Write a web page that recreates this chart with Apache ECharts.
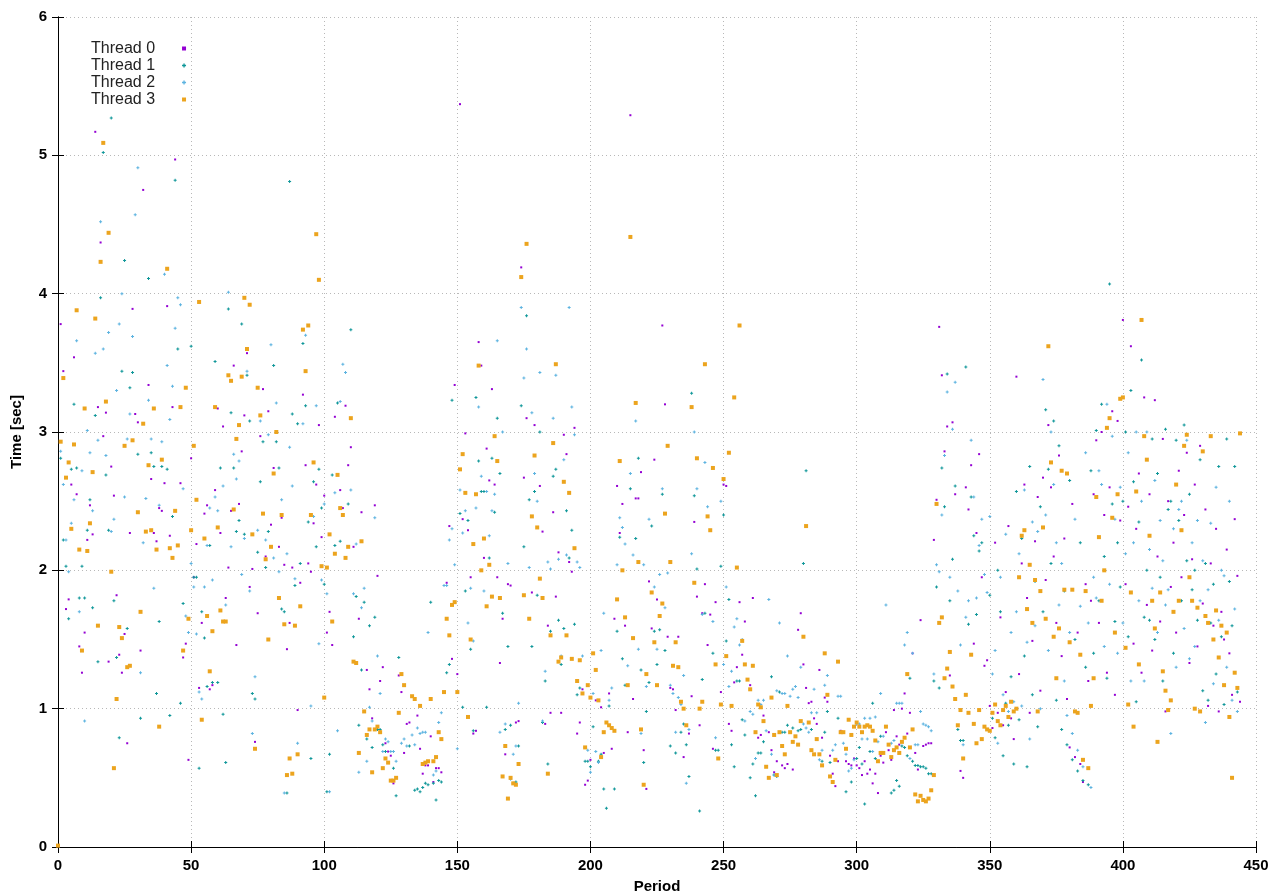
<!DOCTYPE html>
<html><head><meta charset="utf-8">
<script src="https://cdn.jsdelivr.net/npm/echarts@6/dist/echarts.min.js"></script>
<style>html,body{margin:0;padding:0;background:#fff}#c{width:1280px;height:896px}</style>
</head><body><div id="c"></div>
<script>
const seriesNames = ['Thread 0', 'Thread 1', 'Thread 2', 'Thread 3'];
const xTicks = [0, 50, 100, 150, 200, 250, 300, 350, 400, 450];
const yTicks = [0, 1, 2, 3, 4, 5, 6];
// values indexed by period (0,1,2,...); null = no visible point
const thread0 = [
null,3.78,3.44,1.72,1.79,2.62,3.54,2.55,1.45,1.26,
1.55,2.22,2.47,2.26,5.17,3.18,4.37,2.97,3.14,1.34,
2.75,2.54,1.82,1.39,1.26,1.54,0.75,2.27,3.89,3.13,
3.07,1.42,4.75,null,3.34,2.66,2.27,2.21,2.45,2.43,
2.63,3.91,2.25,3.18,4.97,null,2.63,1.37,1.47,0.63,
2.81,1.95,2.19,1.15,1.62,2.41,2.47,1.14,1.17,2.58,
3.17,2.27,3.04,1.80,2.02,2.43,3.48,1.46,2.48,2.86,
3.12,3.57,1.88,2.01,0.76,1.69,2.97,3.31,2.10,3.15,
2.33,2.74,null,2.17,2.38,2.04,1.43,1.62,2.02,null,
0.99,1.91,3.27,2.76,2.05,1.99,2.34,2.62,3.05,2.24,
2.54,1.55,1.70,1.46,3.11,null,2.58,2.45,3.19,2.76,
2.89,2.17,null,1.65,2.42,null,1.28,1.14,0.93,2.47,
1.96,1.20,1.30,0.75,0.69,0.66,0.46,null,1.24,1.12,
0.68,0.89,0.90,null,null,0.95,0.71,0.53,0.59,0.59,
0.80,0.47,0.57,0.57,0.54,null,1.91,2.32,1.36,3.34,
1.25,5.37,2.37,2.99,2.29,1.95,0.82,0.84,3.65,3.48,
2.09,2.88,2.65,3.31,2.62,1.95,1.33,1.65,0.67,1.90,
1.89,null,0.90,0.91,4.19,2.67,3.10,null,1.84,3.05,
null,2.61,2.28,0.89,1.60,0.97,2.42,1.81,2.13,0.97,
2.98,2.84,2.06,1.99,3.03,0.82,0.90,1.14,0.45,0.48,
0.63,null,1.06,null,1.01,0.68,null,1.11,0.71,1.65,
2.61,2.27,2.48,1.60,0.83,5.29,1.07,2.52,2.52,2.71,
0.70,0.42,1.92,1.58,2.80,1.79,null,3.77,3.20,1.52,
1.15,1.14,0.99,1.52,null,0.65,null,0.82,1.09,2.35,
1.81,0.88,1.69,1.90,1.46,1.68,0.71,1.77,null,1.12,
2.62,2.61,0.89,0.84,1.19,1.30,1.77,1.39,1.63,null,
1.17,1.80,null,0.79,0.81,0.95,null,0.83,0.70,0.54,
0.62,null,0.59,0.57,0.60,null,0.56,null,1.57,1.69,
1.32,1.15,1.04,1.05,0.93,0.89,1.28,0.79,1.08,1.05,
0.66,0.53,0.44,0.62,0.84,null,0.62,0.60,0.59,0.64,
0.59,0.57,0.52,0.62,0.53,0.56,0.46,0.53,0.39,0.66,
0.61,0.83,0.70,0.63,0.99,0.80,0.74,1.00,1.11,0.82,
0.97,1.40,0.68,0.56,1.64,0.73,0.74,0.75,0.75,2.22,
2.51,3.76,3.41,2.86,3.04,1.24,3.07,2.55,null,0.55,
0.50,2.60,2.44,2.76,1.47,2.27,2.84,1.95,1.31,1.35,
1.02,0.86,2.20,0.97,1.66,0.88,1.12,2.32,0.93,0.78,
3.40,1.25,2.05,2.62,1.80,0.97,1.49,2.21,2.53,1.13,
2.67,1.93,3.05,2.60,2.10,1.62,2.83,1.38,2.23,1.07,
0.72,2.48,0.65,1.55,0.60,0.47,1.90,1.20,1.78,2.55,
2.94,1.62,3.00,2.40,1.26,2.60,3.15,1.10,3.08,2.36,
3.81,1.90,2.46,3.62,1.47,2.30,2.70,1.26,3.25,1.75,
2.55,1.42,3.23,2.10,1.63,2.95,0.98,2.50,1.88,2.20,
1.55,2.72,1.95,2.40,2.85,1.33,2.08,2.62,1.45,2.90,
1.76,2.44,1.02,2.05,1.60,2.30,0.98,1.70,1.50,2.15,
1.40,1.10,2.37,1.96,1.05
];
const thread1 = [
null,2.81,2.22,2.03,1.65,2.73,3.20,2.74,1.80,2.03,
1.80,2.29,2.51,1.73,3.12,1.34,3.97,5.02,2.69,2.29,
5.27,1.78,1.37,0.79,3.44,4.24,1.58,3.32,3.43,null,
2.84,0.93,null,null,4.11,2.85,2.75,1.11,1.63,2.75,
null,2.73,0.95,2.39,4.82,3.60,1.04,1.76,null,null,
3.62,1.95,1.95,0.57,1.70,1.51,1.16,2.18,1.19,3.51,
1.19,2.74,0.96,0.61,3.89,3.14,2.74,2.28,2.36,3.78,
2.26,3.41,3.08,1.11,1.07,2.13,2.64,2.93,2.02,2.28,
null,3.48,2.93,2.74,1.72,1.70,0.39,4.81,3.13,1.89,
3.06,2.05,3.64,3.19,2.35,0.64,2.64,2.17,2.73,2.45,
1.90,0.40,0.67,2.69,2.18,3.21,2.21,null,null,2.48,
3.74,1.52,1.81,0.88,1.28,1.77,0.78,1.60,0.72,1.66,
0.85,0.85,0.74,0.69,null,null,0.57,0.37,1.37,null,
null,null,0.73,null,0.41,0.42,0.40,0.43,0.46,0.45,
1.77,0.46,0.34,0.48,0.47,null,1.26,1.32,3.23,1.77,
null,2.41,1.01,1.85,2.36,1.43,0.84,3.25,2.79,2.57,
2.57,1.01,2.09,2.81,2.42,3.10,2.70,1.69,0.85,1.45,
0.88,0.46,0.47,0.73,3.19,2.17,3.84,2.51,1.45,2.57,
1.82,3.00,0.90,1.20,0.60,1.56,2.68,2.73,1.64,1.32,
1.58,2.43,2.09,2.29,1.61,1.10,1.15,null,0.62,0.62,
0.58,0.87,null,0.62,0.67,0.42,0.28,1.02,null,0.42,
1.56,2.24,1.36,1.17,null,2.59,null,2.23,2.81,1.28,
0.61,0.98,1.19,2.32,1.56,1.32,1.57,2.55,1.42,null,
0.73,null,0.68,null,0.83,0.89,0.74,0.51,3.28,2.54,
2.01,0.26,1.21,1.69,null,null,1.40,0.70,0.70,2.03,
2.40,1.49,1.79,0.74,0.58,1.20,1.20,0.92,0.81,null,
0.50,0.60,0.37,0.68,0.68,0.76,null,null,1.23,0.52,
0.51,1.12,0.83,0.83,0.88,null,0.86,null,0.84,0.85,
2.05,2.72,null,0.85,null,null,null,0.62,0.83,0.98,
0.61,null,null,0.93,null,null,0.40,null,0.47,null,
0.64,0.72,0.60,0.31,null,0.69,1.04,0.64,null,0.80,
null,null,null,0.39,0.41,0.48,0.44,0.73,0.72,0.66,
1.22,0.62,0.59,0.59,0.58,0.58,0.57,0.53,0.53,1.20,
1.88,1.15,2.74,2.46,3.42,1.78,2.08,2.61,0.85,0.77,
0.77,3.47,1.61,2.53,2.25,1.68,2.14,2.20,null,null,
1.82,0.93,0.79,2.00,1.70,0.66,1.04,0.88,1.23,0.60,
2.57,0.92,2.23,1.38,0.58,2.75,1.10,1.92,0.87,2.46,
1.70,3.16,2.73,2.05,3.08,1.06,2.90,0.85,1.85,0.74,
2.65,0.63,1.50,0.55,2.20,0.48,1.30,0.45,2.72,1.40,
3.01,1.78,3.20,2.10,1.22,4.07,2.48,1.63,2.20,1.88,
2.50,3.00,1.52,3.30,2.64,1.05,2.35,3.52,1.66,2.00,
1.64,2.95,1.50,2.70,1.95,1.20,3.02,2.44,2.50,1.40,
2.94,2.36,1.78,3.05,2.07,2.55,1.86,2.00,1.64,2.80,
1.13,2.05,1.06,1.62,1.90,1.25,2.75,1.52,1.03,2.95,
1.92,1.60,2.75,1.12
];
const thread2 = [
null,2.86,2.62,2.22,1.99,2.34,2.51,3.66,1.70,2.72,
0.91,3.01,2.85,2.43,3.57,2.94,4.52,3.60,2.83,3.72,
2.28,2.37,3.30,3.78,4.00,2.53,2.95,3.13,3.69,4.57,
4.91,1.26,2.20,2.52,3.23,2.95,1.87,null,2.47,2.93,
4.14,3.48,3.09,3.33,3.75,3.97,3.92,2.59,1.67,1.55,
2.05,1.88,1.54,1.12,1.07,1.88,2.18,2.45,1.93,2.53,
2.43,null,2.61,1.75,4.01,2.17,2.84,2.66,2.79,1.97,
2.23,3.44,1.85,0.82,1.23,2.29,3.08,null,2.22,2.98,
3.63,2.09,3.21,1.99,2.51,0.39,2.12,2.89,2.61,1.94,
0.75,null,3.06,3.70,null,1.02,2.39,3.19,1.47,1.93,
2.48,1.83,0.40,null,2.56,0.84,3.22,3.49,3.43,null,
2.58,1.83,2.19,0.54,1.73,1.87,0.62,1.01,0.91,2.38,
1.38,1.11,0.69,0.78,0.76,0.69,0.69,0.62,null,0.75,
0.78,0.73,null,0.81,0.74,0.86,0.82,0.83,0.83,1.55,
null,0.52,0.55,0.90,0.97,1.89,1.89,2.22,2.30,2.04,
0.71,2.58,2.27,2.43,1.62,1.87,1.49,2.45,3.18,2.68,
1.85,2.57,2.25,2.43,2.55,3.66,0.83,3.00,0.89,2.05,
0.49,0.67,0.73,1.04,3.90,3.39,3.60,2.02,3.14,2.70,
2.50,3.43,0.91,1.27,2.06,2.01,3.10,3.41,2.08,1.38,
2.80,2.11,3.90,3.18,2.98,2.06,2.02,1.38,0.72,0.70,
0.54,1.11,0.69,0.61,1.42,1.69,null,1.06,1.15,null,
2.04,2.38,2.31,2.19,1.31,2.70,2.11,3.08,1.43,0.82,
2.04,1.16,2.37,null,1.88,1.43,1.97,2.59,1.73,1.98,
1.17,1.11,0.83,1.08,1.03,1.24,0.46,0.85,2.12,3.00,
2.59,null,1.68,2.78,2.46,null,1.63,0.79,null,2.50,
1.32,1.88,1.16,1.27,1.59,1.65,1.46,1.50,0.91,null,
0.98,0.96,0.64,1.06,1.03,1.06,0.84,1.79,0.67,0.52,
1.13,1.62,1.11,1.11,1.38,1.09,1.14,1.16,1.08,1.30,
0.89,0.86,0.83,0.97,1.14,0.97,0.63,0.70,1.17,1.24,
null,0.70,0.74,1.09,1.09,0.75,0.67,0.55,0.57,0.63,
0.89,0.89,0.78,0.93,0.78,0.93,0.69,0.94,0.76,1.11,
0.80,1.75,null,0.75,0.77,1.04,1.04,1.04,1.46,1.55,
0.64,1.40,0.74,0.74,0.98,0.89,0.88,0.87,0.84,1.25,
2.04,1.99,2.40,2.83,3.29,1.95,3.02,3.36,1.85,1.46,
0.74,1.66,1.78,2.94,2.53,1.80,2.18,2.37,1.97,1.84,
2.39,1.25,1.42,0.75,1.95,1.10,2.26,0.98,1.55,1.05,
1.70,2.12,1.02,2.58,1.48,0.78,2.35,1.60,2.28,1.00,
3.38,2.40,1.42,3.00,2.62,2.20,1.75,2.05,1.20,0.95,
1.55,0.82,2.37,0.70,1.74,0.58,2.85,1.62,0.43,1.95,
1.80,2.72,2.62,1.45,3.20,1.90,2.97,2.37,1.40,2.60,
1.62,2.12,2.85,1.20,2.20,3.00,1.78,2.50,1.20,3.00,
2.15,1.87,2.65,1.55,2.36,2.07,1.75,1.86,0.82,2.30,
1.30,2.44,2.50,1.58,2.94,1.36,2.20,1.45,2.36,1.78,
2.07,0.90,1.86,2.34,1.18,2.60,1.64,2.00,1.96,1.30,
2.50,1.06,1.72,0.98
];
const thread3 = [
0.01,2.93,3.39,2.67,2.78,2.30,2.91,3.88,2.15,1.42,
3.17,2.14,2.34,2.71,3.82,1.60,4.23,5.09,3.22,4.44,
1.99,0.57,1.07,1.59,1.51,2.90,1.30,1.31,2.94,null,
2.42,1.70,3.06,2.28,2.76,2.29,3.17,2.15,0.87,2.80,
null,4.18,2.16,2.09,2.43,2.18,3.18,1.42,3.32,1.65,
2.29,2.90,2.51,3.94,0.92,2.23,1.67,1.27,1.56,3.18,
2.31,1.71,1.63,1.63,3.41,3.37,2.44,2.95,3.05,3.40,
3.97,3.60,3.92,2.26,0.71,3.32,3.12,2.41,2.08,1.50,
2.17,2.70,3.00,1.80,2.40,1.61,0.52,0.64,0.53,1.60,
0.67,1.74,3.74,3.44,3.77,2.40,2.78,4.43,4.10,2.03,
1.08,2.02,2.26,1.63,2.12,2.69,2.45,2.40,2.09,2.17,
3.10,1.34,1.33,0.68,2.21,0.98,0.81,0.85,0.54,0.85,
0.87,0.83,0.57,0.64,0.61,0.48,0.48,0.50,0.97,1.25,
1.17,null,null,1.09,1.07,null,1.02,0.60,0.61,0.62,
1.07,0.62,0.65,0.83,0.78,1.12,1.65,1.53,1.75,1.77,
1.12,2.73,2.84,2.56,0.94,1.50,2.19,2.55,3.48,2.00,
2.23,1.74,2.04,1.81,2.97,2.79,1.80,0.51,0.73,0.35,
0.50,0.46,0.45,0.60,4.12,1.82,4.36,1.65,2.39,2.83,
2.31,1.94,1.80,null,0.53,1.53,2.92,3.49,1.34,1.37,
2.64,1.53,2.56,1.36,2.16,1.20,1.35,1.11,0.72,1.17,
1.08,1.40,1.28,1.06,0.65,0.83,0.90,0.88,0.86,0.84,
1.79,2.79,2.00,1.66,1.17,4.41,1.51,3.21,2.06,0.85,
0.45,1.25,null,1.84,1.48,1.17,1.67,1.76,2.41,2.90,
2.06,1.31,1.48,1.30,1.05,1.00,0.88,null,3.18,1.91,
2.81,1.00,1.05,3.49,2.39,2.29,2.74,1.32,0.64,1.03,
2.66,1.38,2.85,1.02,3.25,2.02,3.77,1.49,1.32,1.21,
1.14,1.31,0.83,1.03,1.01,0.91,0.58,0.50,1.08,0.81,
0.52,0.83,0.73,0.67,1.02,0.83,0.76,0.80,0.74,0.91,
1.52,2.32,0.90,0.70,0.67,0.78,0.67,0.59,1.40,1.10,
0.51,0.47,0.63,1.34,0.83,0.83,0.71,0.92,0.81,0.87,
0.90,0.87,0.83,0.87,0.88,0.87,0.84,0.77,0.62,0.68,
0.68,0.87,0.74,0.65,0.70,0.72,0.68,0.76,0.79,1.25,
0.72,0.85,0.38,0.33,0.37,0.34,0.33,0.35,0.41,0.52,
2.48,1.62,1.66,1.22,1.29,1.41,1.16,1.07,0.88,0.99,
0.64,1.10,0.97,1.39,0.89,0.75,0.99,0.78,0.87,0.85,
0.84,0.97,1.03,0.91,0.88,0.99,1.02,0.94,1.05,0.98,
1.00,1.95,2.25,2.29,1.72,2.04,1.62,1.93,0.98,1.85,
2.31,1.65,3.62,2.78,1.52,1.22,1.58,2.72,1.86,2.70,
1.48,1.86,0.98,0.97,1.39,0.63,1.85,0.57,1.02,1.22,
2.53,2.24,1.78,2.00,3.03,3.10,2.38,1.55,2.55,3.24,
3.25,1.44,1.03,1.84,0.87,2.57,1.32,3.81,2.97,2.80,
2.25,1.78,1.58,0.76,1.84,1.27,1.13,0.99,1.06,1.70,
2.62,1.78,2.29,2.90,2.98,1.95,1.78,1.00,1.73,0.98,
2.86,1.67,1.62,2.97,1.50,1.71,1.37,1.60,1.17,1.55,
0.94,0.50,1.26,1.15,2.99
];

const FONT = '"Liberation Sans", Arial, Helvetica, sans-serif';
const threadValues = [thread0, thread1, thread2, thread3];
const colors = ['#9400d3', '#0f9799', '#5cb3e0', '#eca41e'];
const PLUS = 'path://M1,0H2V1H3V2H2V3H1V2H0V1H1Z';
const SQUARE = 'path://M0,0H1V1H0Z';
const symbols = [SQUARE, PLUS, PLUS, SQUARE];
const sizes = [2, 3, 3, 4];

function toPoints(arr) {
  const out = [];
  arr.forEach((v, i) => { if (v !== null) out.push([i, v]); });
  return out;
}

const chart = echarts.init(document.getElementById('c'), null, {renderer: 'canvas'});
const axisCommon = {
  axisLine: {show: true, lineStyle: {color: '#000', width: 1}},
  axisTick: {show: true, inside: true, length: 6, lineStyle: {color: '#000'}}
};
chart.setOption({
  animation: false,
  backgroundColor: '#fff',
  textStyle: {fontFamily: FONT},
  grid: {left: 58, right: 24, top: 17, bottom: 49, containLabel: false, outerBoundsMode: 'none'},
  legend: {
    data: seriesNames.map((n, i) => ({name: n, icon: symbols[i]})),
    orient: 'vertical', left: 86, top: 35, align: 'right',
    itemWidth: 48, itemHeight: 4, itemGap: 0, selectedMode: false,
    textStyle: {fontFamily: FONT, fontSize: 16, color: '#222', lineHeight: 17}
  },
  xAxis: [
    Object.assign({
      type: 'value', min: xTicks[0], max: xTicks[xTicks.length - 1], interval: 50,
      name: 'Period', nameLocation: 'middle', nameGap: 32,
      nameTextStyle: {fontFamily: FONT, fontWeight: 'bold', fontSize: 15, color: '#000'},
      axisLabel: {fontFamily: FONT, fontWeight: 'bold', fontSize: 15, color: '#000', margin: 11},
      splitLine: {show: true, lineStyle: {color: '#b8b8b8', width: 1, type: [1, 3]}}
    }, axisCommon),
    Object.assign({
      type: 'value', position: 'top', min: xTicks[0], max: xTicks[xTicks.length - 1], interval: 50,
      axisLabel: {show: false}, splitLine: {show: false}
    }, axisCommon)
  ],
  yAxis: [
    Object.assign({
      type: 'value', min: yTicks[0], max: yTicks[yTicks.length - 1], interval: 1,
      name: 'Time [sec]', nameLocation: 'middle', nameGap: 34,
      nameTextStyle: {fontFamily: FONT, fontWeight: 'bold', fontSize: 15, color: '#000'},
      axisLabel: {fontFamily: FONT, fontWeight: 'bold', fontSize: 15, color: '#000', margin: 11},
      splitLine: {show: true, lineStyle: {color: '#b8b8b8', width: 1, type: [1, 3]}}
    }, axisCommon),
    Object.assign({
      type: 'value', position: 'right', min: yTicks[0], max: yTicks[yTicks.length - 1], interval: 1,
      axisLabel: {show: false}, splitLine: {show: false}
    }, axisCommon)
  ],
  series: seriesNames.map((n, i) => ({
    name: n, type: 'scatter', xAxisIndex: 0, yAxisIndex: 0,
    symbol: symbols[i], symbolSize: sizes[i],
    itemStyle: {color: colors[i], opacity: 1},
    emphasis: {disabled: true},
    z: 2 + i,
    data: toPoints(threadValues[i])
  }))
});
</script>
</body></html>
